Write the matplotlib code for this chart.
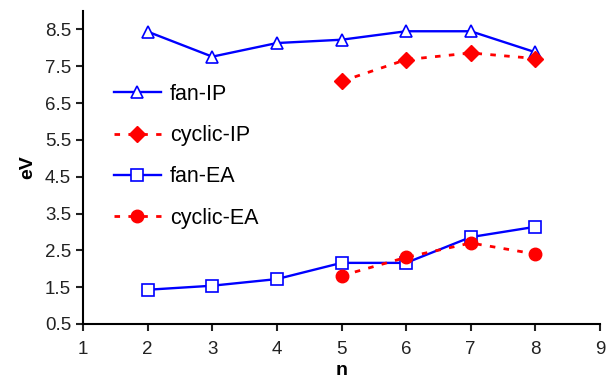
import matplotlib
matplotlib.use("Agg")
import matplotlib.pyplot as plt

plt.rcParams['font.family'] = ['Liberation Sans', 'DejaVu Sans']

n_fan = [2, 3, 4, 5, 6, 7, 8]
n_cyc = [5, 6, 7, 8]
fan_ip = [8.44, 7.76, 8.13, 8.22, 8.45, 8.45, 7.88]
cyc_ip = [7.09, 7.68, 7.86, 7.71]
fan_ea = [1.43, 1.54, 1.72, 2.16, 2.16, 2.86, 3.14]
cyc_ea = [1.81, 2.31, 2.70, 2.40]

fig = plt.figure(figsize=(6.08, 3.81), dpi=100)
ax = fig.add_axes([83 / 608, 1 - 324 / 381, 517 / 608, 313 / 381])

blue = "#0000ff"
red = "#ff0000"
ax.plot(n_fan, fan_ip, color=blue, lw=1.7, marker="^", ms=9, mfc="white", mec=blue,
        mew=1.2, label="fan-IP")
ax.plot(n_cyc, cyc_ip, color=red, lw=2, ls=(0, (2, 3)), marker="D", ms=8, mfc=red, mec=red,
        label="cyclic-IP")
ax.plot(n_fan, fan_ea, color=blue, lw=1.7, marker="s", ms=8, mfc="white", mec=blue,
        mew=1.2, label="fan-EA")
ax.plot(n_cyc, cyc_ea, color=red, lw=2, ls=(0, (2, 3)), marker="o", ms=9, mfc=red, mec=red,
        label="cyclic-EA")

ax.set_xlim(1, 9)
ax.set_ylim(0.5, 9.0)
ax.set_xticks(range(1, 10))
ax.set_yticks([0.5, 1.5, 2.5, 3.5, 4.5, 5.5, 6.5, 7.5, 8.5])
ax.set_yticklabels(["0.5", "1.5", "2.5", "3.5", "4.5", "5.5", "6.5", "7.5", "8.5"])
ax.spines["top"].set_visible(False)
ax.spines["right"].set_visible(False)
for s in ("left", "bottom"):
    ax.spines[s].set_linewidth(1.5)
ax.tick_params(direction="out", length=5, width=1.5, labelsize=13.5, colors="#222222")
ax.tick_params(axis="x", pad=7)
ax.set_xlabel("n", fontsize=14, fontweight="bold", labelpad=3)
ax.set_ylabel("eV", fontsize=14, fontweight="bold", labelpad=6)

ax.legend(loc="upper left", bbox_to_anchor=(0.022, 0.83), frameon=False, fontsize=15.5,
          handlelength=2.2, labelspacing=0.95, handletextpad=0.4)

fig.savefig("out.png", dpi=100)
